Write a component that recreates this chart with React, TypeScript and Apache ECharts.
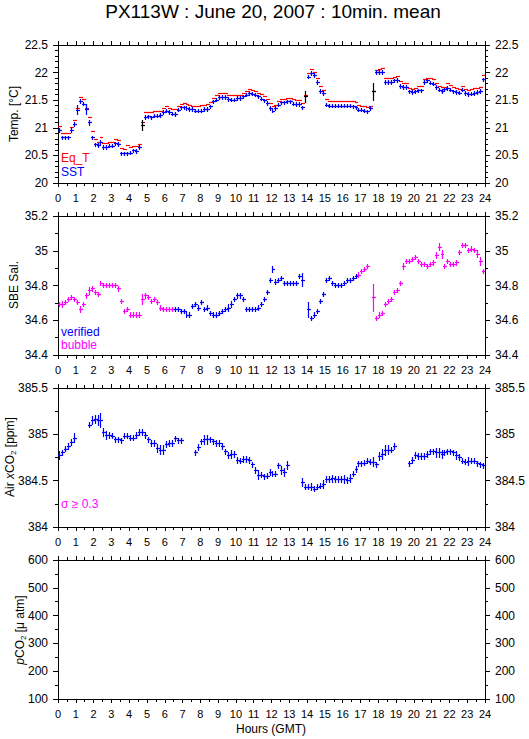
import React, { useEffect, useRef } from "react";
import * as echarts from "echarts";

const FONT = '"Liberation Sans", Arial, Helvetica, sans-serif';

// 10-minute means, 6 per hour, index i -> hour (i + 0.5) / 6
const eqT: (number | null)[] = [
  21.03, 20.89, 20.89, 20.89, 21.01, 21.14,
  21.35, 21.55, 21.51, 21.35, 21.18, 20.93,
  20.79, 20.74, 20.82, 20.72, 20.72, 20.74,
  20.74, 20.79, 20.77, 20.62, 20.60, 20.68,
  20.65, 20.66, 20.66, 20.69, 21.10, 21.27,
  21.27, 21.27, 21.29, 21.29, 21.29, 21.35,
  21.38, 21.35, 21.33, 21.33, 21.39, 21.42,
  21.44, 21.42, 21.41, 21.39, 21.39, 21.39,
  21.40, 21.41, 21.42, 21.45, 21.53, 21.58,
  21.62, 21.62, 21.62, 21.58, 21.58, 21.58,
  21.59, 21.59, 21.62, 21.65, 21.69, 21.68,
  21.65, 21.62, 21.60, 21.57, 21.52, 21.44,
  21.39, 21.41, 21.47, 21.51, 21.51, 21.53,
  21.53, 21.51, 21.49, 21.49, 21.44, 21.58,
  21.98, 22.05, 22.00, 21.90, 21.74, 21.67,
  21.51, 21.47, 21.47, 21.47, 21.47, 21.47,
  21.47, 21.47, 21.47, 21.47, 21.45, 21.41,
  21.39, 21.38, 21.36, 21.39, 21.65, 22.04,
  22.05, 22.08, 21.90, 21.89, 21.89, 21.92,
  21.93, 21.83, 21.80, 21.80, 21.72, 21.70,
  21.71, 21.74, 21.74, 21.87, 21.90, 21.89,
  21.87, 21.80, 21.75, 21.73, 21.73, 21.80,
  21.77, 21.73, 21.71, 21.70, 21.74, 21.69,
  21.68, 21.70, 21.71, 21.72, 21.73, 21.95,
];

const sst: (number | null)[] = [
  20.95, 20.82, 20.82, 20.82, 20.96, 21.06,
  21.32, 21.48, 21.43, 21.33, 21.09, 20.82,
  20.69, 20.68, 20.73, 20.64, 20.64, 20.67,
  20.67, 20.71, 20.70, 20.53, 20.53, 20.53,
  20.54, 20.58, 20.57, 20.64, 21.04, 21.19,
  21.20, 21.18, 21.21, 21.21, 21.22, 21.28,
  21.30, 21.28, 21.25, 21.24, 21.32, 21.36,
  21.36, 21.35, 21.33, 21.33, 21.30, 21.30,
  21.30, 21.33, 21.33, 21.38, 21.47, 21.50,
  21.55, 21.55, 21.55, 21.51, 21.50, 21.50,
  21.53, 21.53, 21.56, 21.59, 21.62, 21.61,
  21.59, 21.56, 21.52, 21.49, 21.44, 21.35,
  21.30, 21.35, 21.41, 21.45, 21.45, 21.47,
  21.47, 21.43, 21.42, 21.42, 21.36, 21.56,
  21.92, 21.98, 21.95, 21.82, 21.66, 21.62,
  21.41, 21.39, 21.39, 21.39, 21.39, 21.39,
  21.39, 21.39, 21.39, 21.38, 21.36, 21.32,
  21.32, 21.30, 21.29, 21.35, 21.65, 22.00,
  22.00, 22.00, 21.82, 21.82, 21.82, 21.85,
  21.86, 21.75, 21.73, 21.73, 21.65, 21.64,
  21.65, 21.67, 21.67, 21.82, 21.85, 21.81,
  21.79, 21.73, 21.68, 21.66, 21.69, 21.71,
  21.68, 21.65, 21.64, 21.63, 21.68, 21.62,
  21.60, 21.61, 21.62, 21.64, 21.66, 21.87,
];
const sstErrDefault = 0.04;
const sstErrWide: Record<number, number> = { 4: 0.05, 6: 0.09, 7: 0.05, 9: 0.1, 10: 0.06, 28: 0.1, 83: 0.11, 106: 0.17 };
const sstFlagged: number[] = [28, 83, 106];

const salinity: (number | null)[] = [
  34.69, 34.69, 34.70, 34.72, 34.73, 34.72,
  34.70, 34.66, 34.69, 34.74, 34.77, 34.78,
  34.76, 34.75, 34.81, 34.80, 34.80, 34.80,
  34.80, 34.80, 34.78, 34.71, 34.65, 34.66,
  34.63, 34.63, 34.63, 34.63, 34.72, 34.74,
  34.73, 34.71, 34.72, 34.70, 34.67, 34.66,
  34.66, 34.66, 34.66, 34.66, 34.66, 34.65,
  34.65, 34.63, 34.63, 34.68, 34.69, 34.67,
  34.70, 34.66, 34.67, 34.64, 34.63, 34.63,
  34.64, 34.65, 34.66, 34.67, 34.69, 34.72,
  34.74, 34.74, 34.72, 34.66, 34.66, 34.66,
  34.66, 34.67, 34.69, 34.72, 34.76, 34.83,
  34.89, 34.82, 34.83, 34.84, 34.81, 34.81,
  34.81, 34.81, 34.81, 34.85, 34.83, null,
  34.66, 34.61, 34.63, 34.65, 34.71, 34.75,
  34.83, 34.84, 34.81, 34.80, 34.80, 34.80,
  34.81, 34.83, 34.83, 34.84, 34.85, 34.86,
  34.88, 34.89, 34.91, null, 34.73, 34.61,
  34.63, 34.64, 34.69, 34.71, 34.72, 34.76,
  34.77, 34.81, 34.91, 34.94, 34.94, 34.95,
  34.96, 34.94, 34.92, 34.92, 34.91, 34.92,
  34.93, 34.97, 35.02, 34.98, 34.91, 34.94,
  34.92, 34.92, 34.93, 34.99, 35.03, 35.03,
  35.00, 35.01, 35.00, 34.98, 34.94, 34.88,
];
const salErrDefault = 0.015;
const salErrWide: Record<number, number> = { 1: 0.02, 7: 0.02, 10: 0.022, 28: 0.03, 57: 0.022, 58: 0.022, 72: 0.02, 82: 0.04, 84: 0.045, 106: 0.08, 116: 0.02, 127: 0.02, 128: 0.022, 129: 0.025, 141: 0.022, 142: 0.025 };
// "verified" (blue) from index 39 through 100, "bubble" (magenta) elsewhere
const salVerifiedFrom = 39;
const salVerifiedTo = 100;

const airXco2: (number | null)[] = [
  384.77, 384.80, 384.84, 384.87, 384.91, 384.96,
  null, null, null, null, 385.10, 385.15,
  385.16, 385.15, 385.15, 385.02, 384.99, 384.99,
  384.98, 384.94, 384.94, 384.93, 384.98, 384.98,
  384.96, 384.96, 384.99, 385.02, 385.02, 384.99,
  384.94, 384.90, 384.90, 384.85, 384.83, 384.83,
  384.89, 384.90, 384.90, 384.95, 384.93, 384.93,
  null, null, null, null, 384.80, 384.86,
  384.92, 384.94, 384.94, 384.94, 384.92, 384.90,
  384.90, 384.87, 384.81, 384.77, 384.78, 384.78,
  384.72, 384.71, 384.73, 384.73, 384.72, 384.67,
  384.61, 384.56, 384.56, 384.54, 384.55, 384.59,
  384.57, 384.57, 384.66, 384.61, 384.59, 384.66,
  null, null, null, null, 384.48, 384.43,
  384.43, 384.43, 384.41, 384.43, 384.44, 384.46,
  384.51, 384.51, 384.52, 384.51, 384.51, 384.51,
  384.51, 384.50, 384.52, 384.57, 384.62, 384.68,
  384.68, 384.69, 384.71, 384.70, 384.70, 384.67,
  384.76, 384.78, 384.83, 384.83, 384.83, 384.87,
  null, null, null, null, 384.68, 384.72,
  384.77, 384.76, 384.76, 384.76, 384.78, 384.81,
  384.81, 384.80, 384.80, 384.78, 384.80, 384.81,
  384.81, 384.80, 384.77, 384.75, 384.71, 384.70,
  384.71, 384.71, 384.71, 384.68, 384.67, 384.66,
];
const co2ErrDefault = 0.035;
const co2ErrWide: Record<number, number> = { 0: 0.05, 5: 0.05, 11: 0.05, 12: 0.05, 13: 0.06, 14: 0.08, 15: 0.05, 16: 0.05, 33: 0.05, 34: 0.05, 35: 0.05, 49: 0.05, 50: 0.05, 58: 0.05, 67: 0.05, 75: 0.05, 76: 0.05, 77: 0.05, 82: 0.05, 85: 0.04, 89: 0.045, 92: 0.045, 96: 0.05, 98: 0.05, 106: 0.055, 108: 0.05, 109: 0.06, 110: 0.06, 111: 0.05, 113: 0.04, 127: 0.05, 128: 0.05, 129: 0.05, 134: 0.05, 138: 0.05 };

const yRanges = [
  { min: 20, max: 22.5, interval: 0.5, minor: 5 },
  { min: 34.4, max: 35.2, interval: 0.2, minor: 2 },
  { min: 384, max: 385.5, interval: 0.5, minor: 2 },
  { min: 100, max: 600, interval: 100, minor: 2 },
];
const xRange = { min: 0, max: 24, interval: 1 };

const COLORS = ["#0000ff", "#ff00ff", "#ff0000", "#000000"];
const HALF = 1 / 12; // half of a 10-min bin in hours

function toPoints(
  values: (number | null)[],
  errDefault: number,
  errWide: Record<number, number>,
  colorOf: (i: number) => number
) {
  const out: number[][] = [];
  values.forEach((v, i) => {
    if (v == null) return;
    out.push([(i + 0.5) / 6, v, errWide[i] ?? errDefault, colorOf(i)]);
  });
  return out;
}

const px = (n: number) => Math.round(n - 0.5) + 0.5;

function renderCross(params: any, api: any) {
  const t = api.value(0);
  const v = api.value(1);
  const e = api.value(2);
  const color = COLORS[api.value(3)] || "#000";
  const l = api.coord([t - HALF, v]);
  const r = api.coord([t + HALF, v]);
  const c = api.coord([t, v]);
  const y = px(c[1]);
  const xc = px(c[0]);
  const children: any[] = [
    { type: "line", shape: { x1: Math.round(l[0]), y1: y, x2: Math.round(r[0]) + 1, y2: y }, style: { stroke: color, lineWidth: 1.2 } },
  ];
  if (e > 0) {
    const top = api.coord([t, v + e]);
    const bot = api.coord([t, v - e]);
    children.push({ type: "line", shape: { x1: xc, y1: Math.round(top[1]), x2: xc, y2: Math.round(bot[1]) }, style: { stroke: color, lineWidth: 1.2 } });
  }
  return { type: "group", children };
}

const GRID_LEFT = 58;
const GRID_WIDTH = 427;
const gridTops = [45, 216, 388, 560];
const gridHeights = [138, 139, 139, 139];

function fmt(v: number) {
  return String(Math.round(v * 100) / 100);
}

function buildOption() {
  const black = { color: "#000", width: 1 };
  const grids = gridTops.map((top, k) => ({ left: GRID_LEFT, top, width: GRID_WIDTH, height: gridHeights[k] }));
  const xAxes: any[] = [];
  const yAxes: any[] = [];
  for (let k = 0; k < 4; k++) {
    for (const pos of ["bottom", "top"]) {
      xAxes.push({
        type: "value",
        gridIndex: k,
        position: pos,
        min: xRange.min,
        max: xRange.max,
        interval: xRange.interval,
        axisLine: { show: true, onZero: false, lineStyle: black },
        axisTick: { show: true, length: 4, lineStyle: black },
        minorTick: { show: true, splitNumber: 2, length: 3, lineStyle: black },
        splitLine: { show: false },
        axisLabel: { show: pos === "bottom", color: "#000", fontFamily: FONT, fontSize: 11, margin: 9 },
      });
    }
    const yr = yRanges[k];
    for (const pos of ["left", "right"]) {
      yAxes.push({
        type: "value",
        gridIndex: k,
        position: pos,
        min: yr.min,
        max: yr.max,
        interval: yr.interval,
        axisLine: { show: true, onZero: false, lineStyle: black },
        axisTick: { show: true, length: 5, lineStyle: black },
        minorTick: { show: true, splitNumber: yr.minor, length: 3, lineStyle: black },
        splitLine: { show: false },
        axisLabel: { color: "#000", fontFamily: FONT, fontSize: 12, margin: 10, formatter: fmt },
      });
    }
  }

  const series: any[] = [
    {
      type: "custom",
      name: "Eq_T",
      xAxisIndex: 0,
      yAxisIndex: 0,
      clip: true,
      renderItem: renderCross,
      encode: { x: 0, y: 1 },
      data: toPoints(eqT, 0, {}, () => 2),
    },
    {
      type: "custom",
      name: "SST",
      xAxisIndex: 0,
      yAxisIndex: 0,
      clip: true,
      renderItem: renderCross,
      encode: { x: 0, y: 1 },
      data: toPoints(sst, sstErrDefault, sstErrWide, (i) => (sstFlagged.includes(i) ? 3 : 0)),
    },
    {
      type: "custom",
      name: "SBE Sal.",
      xAxisIndex: 2,
      yAxisIndex: 2,
      clip: true,
      renderItem: renderCross,
      encode: { x: 0, y: 1 },
      data: toPoints(salinity, salErrDefault, salErrWide, (i) => (i >= salVerifiedFrom && i <= salVerifiedTo ? 0 : 1)),
    },
    {
      type: "custom",
      name: "Air xCO2",
      xAxisIndex: 4,
      yAxisIndex: 4,
      clip: true,
      renderItem: renderCross,
      encode: { x: 0, y: 1 },
      data: toPoints(airXco2, co2ErrDefault, co2ErrWide, () => 0),
    },
  ];

  const txt = (text: string, x: number, y: number, fill: string, fontSize: number, extra: any = {}) => ({
    type: "text",
    x,
    y,
    silent: true,
    ...extra,
    style: {
      text,
      fill,
      fontFamily: FONT,
      fontSize,
      align: extra.align || "left",
      textAlign: extra.align || "left",
      verticalAlign: "middle",
      textVerticalAlign: "middle",
      ...(extra.style || {}),
    },
  });

  const richSub = {
    i: { fontStyle: "italic", fontSize: 12, fontFamily: FONT, fill: "#000", lineHeight: 14 },
    n: { fontSize: 12, fontFamily: FONT, fill: "#000", lineHeight: 14 },
    sub: { fontSize: 8, fontFamily: FONT, fill: "#000", lineHeight: 8, verticalAlign: "bottom" },
  };

  const graphic: any[] = [
    txt("PX113W : June 20, 2007 : 10min. mean", 273, 11, "#000", 19, { align: "center" }),
    txt("Temp. [°C]", 14, 114, "#000", 12, { align: "center", rotation: Math.PI / 2 }),
    txt("SBE Sal.", 14, 285, "#000", 12, { align: "center", rotation: Math.PI / 2 }),
    txt("{n|Air }{i|x}{n|CO}{sub|2}{n| [ppm]}", 10, 457, "#000", 12, {
      align: "center",
      rotation: Math.PI / 2,
      style: { rich: richSub },
    }),
    txt("{i|p}{n|CO}{sub|2}{n| [μ atm]}", 20, 630, "#000", 12, {
      align: "center",
      rotation: Math.PI / 2,
      style: { rich: richSub },
    }),
    txt("Hours (GMT)", 271, 729, "#000", 12, { align: "center" }),
    txt("Eq_T", 61, 158, "#ff0000", 12),
    txt("SST", 61, 172, "#0000ff", 12),
    txt("verified", 61, 332, "#0000ff", 12),
    txt("bubble", 61, 345, "#ff00ff", 12),
    txt("σ ≥ 0.3", 61, 504, "#ff00ff", 12),
  ];

  return {
    animation: false,
    backgroundColor: "#ffffff",
    grid: grids,
    xAxis: xAxes,
    yAxis: yAxes,
    series,
    graphic,
  };
}

export default function App() {
  const ref = useRef<HTMLDivElement>(null);
  useEffect(() => {
    if (!ref.current) return;
    const chart = echarts.init(ref.current, undefined, { renderer: "svg" });
    chart.setOption(buildOption() as any);
    return () => chart.dispose();
  }, []);
  return (
    <div
      ref={ref}
      style={{ position: "fixed", left: 0, top: 0, width: 529, height: 739, background: "#fff" }}
    />
  );
}
